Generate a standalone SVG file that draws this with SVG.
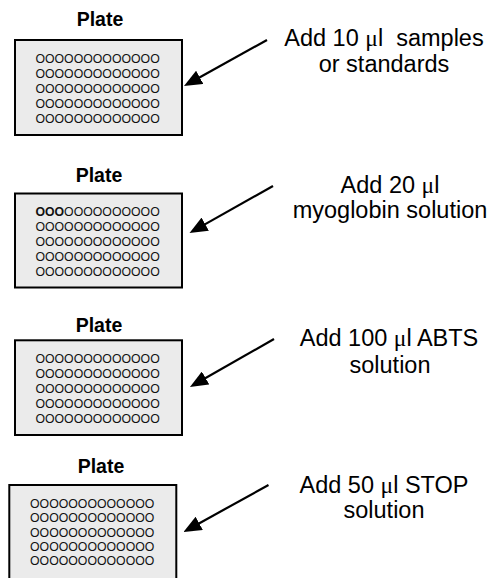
<svg xmlns="http://www.w3.org/2000/svg" width="490" height="578" viewBox="0 0 490 578">
<style>
.title{font-family:"Liberation Sans",Arial,sans-serif;font-weight:bold;font-size:19.5px;text-anchor:middle;fill:#000}
.plate{fill:#ebebeb;stroke:#000;stroke-width:2}
.wells{font-family:"Liberation Sans",Arial,sans-serif;font-size:12.3px;fill:#111}
.b{font-weight:bold}
.lbl{font-family:"Liberation Sans",Arial,sans-serif;font-size:23.5px;text-anchor:middle;fill:#000}
.mu{font-family:"Liberation Serif","Times New Roman",serif}
.conn{stroke:#000;stroke-width:2.2;fill:none;marker-end:url(#ah)}
</style>
<defs>
<marker id="ah" markerUnits="userSpaceOnUse" markerWidth="18" markerHeight="15" refX="7" refY="7.5" orient="auto">
<path d="M0,0 L18,7.5 L0,15 z" fill="#000"/>
</marker>
</defs>
<g id="plate1">
<text class="title" x="100" y="26">Plate</text>
<rect class="plate" x="15" y="40" width="167" height="95"/>
<g class="wells">
<text x="35.4" y="63.3">OOOOOOOOOOOOO</text>
<text x="35.4" y="78.1">OOOOOOOOOOOOO</text>
<text x="35.4" y="93">OOOOOOOOOOOOO</text>
<text x="35.4" y="107.8">OOOOOOOOOOOOO</text>
<text x="35.4" y="122.7">OOOOOOOOOOOOO</text>
</g>
</g>
<g id="label1">
<text class="lbl" x="384" y="46" xml:space="preserve">Add 10 <tspan class="mu">μ</tspan>l  samples</text>
<text class="lbl" x="384" y="72">or standards</text>
</g>
<g id="plate2">
<text class="title" x="99" y="181.7">Plate</text>
<rect class="plate" x="15" y="193.5" width="167" height="94"/>
<g class="wells">
<text x="35.4" y="216.4"><tspan class="b">OOO</tspan>OOOOOOOOOO</text>
<text x="35.4" y="231.3">OOOOOOOOOOOOO</text>
<text x="35.4" y="246.1">OOOOOOOOOOOOO</text>
<text x="35.4" y="261">OOOOOOOOOOOOO</text>
<text x="35.4" y="275.8">OOOOOOOOOOOOO</text>
</g>
</g>
<g id="label2">
<text class="lbl" x="390" y="192.7">Add 20 <tspan class="mu">μ</tspan>l</text>
<text class="lbl" x="390" y="218.3">myoglobin solution</text>
</g>
<g id="plate3">
<text class="title" x="99" y="331.5">Plate</text>
<rect class="plate" x="15" y="340.3" width="167" height="94.7"/>
<g class="wells">
<text x="35.4" y="363.4">OOOOOOOOOOOOO</text>
<text x="35.4" y="378.2">OOOOOOOOOOOOO</text>
<text x="35.4" y="393.1">OOOOOOOOOOOOO</text>
<text x="35.4" y="407.9">OOOOOOOOOOOOO</text>
<text x="35.4" y="422.8">OOOOOOOOOOOOO</text>
</g>
</g>
<g id="label3">
<text class="lbl" x="389" y="346">Add 100 <tspan class="mu">μ</tspan>l ABTS</text>
<text class="lbl" x="390" y="372.7">solution</text>
</g>
<g id="plate4">
<text class="title" x="101" y="473">Plate</text>
<rect class="plate" x="9.3" y="485" width="167" height="96"/>
<g class="wells">
<text x="30" y="507.7">OOOOOOOOOOOOO</text>
<text x="30" y="522">OOOOOOOOOOOOO</text>
<text x="30" y="536.6">OOOOOOOOOOOOO</text>
<text x="30" y="551">OOOOOOOOOOOOO</text>
<text x="30" y="565.2">OOOOOOOOOOOOO</text>
</g>
</g>
<g id="label4">
<text class="lbl" x="384" y="492.7">Add 50 <tspan class="mu">μ</tspan>l STOP</text>
<text class="lbl" x="384" y="518.3">solution</text>
</g>
<g id="connectors">
<line class="conn" x1="267" y1="40" x2="193.6" y2="80.7"/>
<line class="conn" x1="273" y1="186" x2="199.1" y2="227.6"/>
<line class="conn" x1="274" y1="339" x2="199.5" y2="381.5"/>
<line class="conn" x1="268.5" y1="485" x2="193.1" y2="526.7"/>
</g>
</svg>
